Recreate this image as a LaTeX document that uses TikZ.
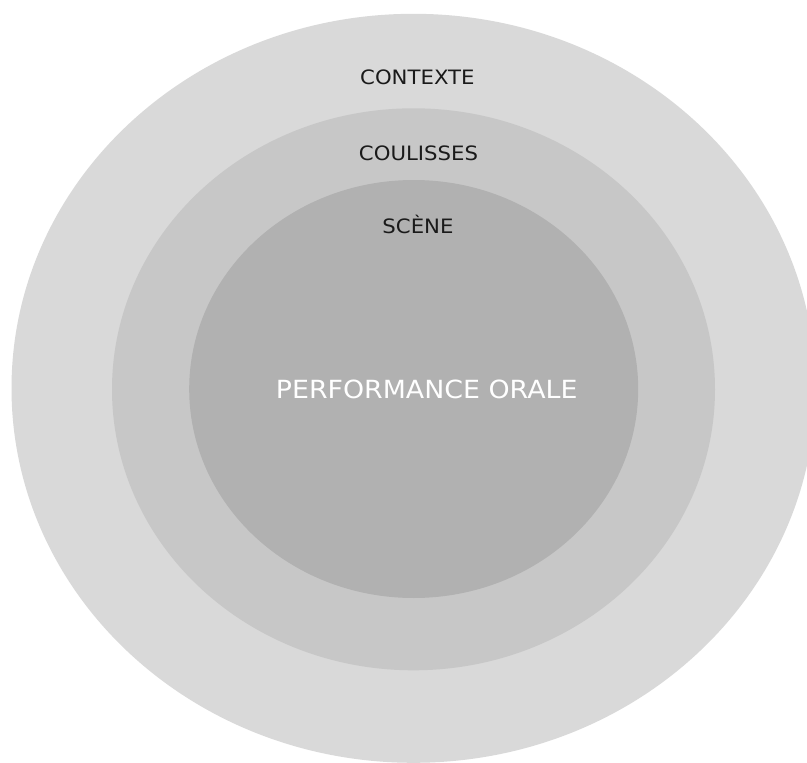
\documentclass[tikz,border=0pt]{standalone}
\usepackage{fontspec}
\setmainfont{DejaVu Sans}
\newfontfamily\labelfont[FakeStretch=1.073]{DejaVu Sans}
\usetikzlibrary{shapes.geometric}
\definecolor{ringA}{HTML}{D9D9D9}
\definecolor{ringB}{HTML}{C7C7C7}
\definecolor{ringC}{HTML}{B1B1B1}
\definecolor{labeltext}{HTML}{1A1A1A}
\tikzset{
  ring/.style={ellipse, draw=none, inner sep=0pt, outer sep=0pt},
  ringlabel/.style={anchor=base, inner sep=0pt, text=labeltext, font=\labelfont\fontsize{19.8}{22}\selectfont},
  mainlabel/.style={anchor=base, inner sep=0pt, text=white, font=\labelfont\fontsize{25}{28}\selectfont}
}
\begin{document}
\begin{tikzpicture}[x=1pt,y=-1pt]
\useasboundingbox (0,0) rectangle (807,763);
\clip (0,0) rectangle (807,763);
\fill[white] (0,0) rectangle (807,763);
\node[ring, fill=ringA, minimum width=804pt, minimum height=749pt] (contexte) at (413.5,388.3) {};
\node[ring, fill=ringB, minimum width=603pt, minimum height=562pt] (coulisses) at (413.5,389.3) {};
\node[ring, fill=ringC, minimum width=449pt, minimum height=418pt] (scene) at (413.7,389) {};
\node[ringlabel] (lcontexte) at (417.4,84.3) {CONTEXTE};
\node[ringlabel] (lcoulisses) at (418.5,160) {COULISSES};
\node[ringlabel] (lscene) at (418,233.3) {SCÈNE};
\node[mainlabel] (lperf) at (426.7,398.3) {PERFORMANCE ORALE};
\end{tikzpicture}
\end{document}
